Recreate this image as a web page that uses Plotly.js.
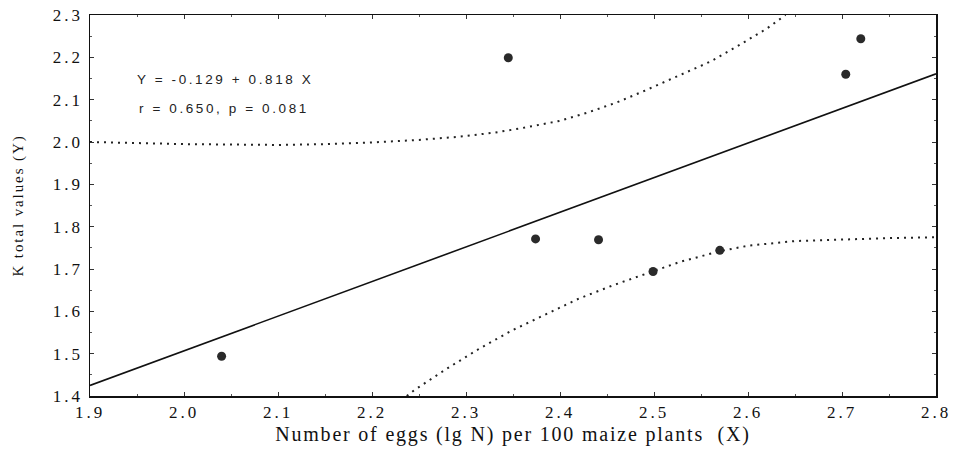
<!DOCTYPE html>
<html>
<head>
<meta charset="utf-8">
<script src="https://cdn.plot.ly/plotly-3.0.1.min.js"></script>
<style>
html,body{margin:0;padding:0;background:#fff;}
#chart{width:954px;height:456px;}
#chart g.xtick text, #chart g.ytick text{letter-spacing:3px;}
#chart text.xtitle{letter-spacing:1.8px;}
#chart text.ytitle{letter-spacing:1.9px;}
#chart g.annotation text{letter-spacing:2.6px;}
</style>
</head>
<body>
<div id="chart"></div>
<script>
// Observed points
const eggsX = [2.040, 2.345, 2.374, 2.441, 2.499, 2.570, 2.704, 2.720];
const kTotalY = [1.494, 2.199, 1.771, 1.769, 1.694, 1.744, 2.160, 2.244];

// Regression line endpoints (Y = -0.129 + 0.818 X)
const fitX = [1.9, 2.8];
const fitY = [1.425, 2.161];

// Upper confidence band
const upperX = [1.9, 2.0, 2.1, 2.15, 2.2, 2.25, 2.29, 2.33, 2.36, 2.40, 2.43, 2.46, 2.49, 2.52, 2.56, 2.59, 2.62, 2.64];
const upperY = [2.000, 1.995, 1.993, 1.995, 1.999, 2.005, 2.012, 2.022, 2.033, 2.050, 2.070, 2.093, 2.121, 2.150, 2.190, 2.228, 2.268, 2.300];

// Lower confidence band
const lowerX = [2.237, 2.245, 2.28, 2.315, 2.35, 2.386, 2.42, 2.457, 2.50, 2.528, 2.57, 2.60, 2.65, 2.70, 2.75, 2.80];
const lowerY = [1.400, 1.414, 1.465, 1.513, 1.556, 1.595, 1.630, 1.662, 1.696, 1.717, 1.742, 1.755, 1.766, 1.770, 1.773, 1.775];

const xTicks = [1.9, 2.0, 2.1, 2.2, 2.3, 2.4, 2.5, 2.6, 2.7, 2.8];
const yTicks = [1.4, 1.5, 1.6, 1.7, 1.8, 1.9, 2.0, 2.1, 2.2, 2.3];

const eqText = "Y = -0.129 + 0.818 X";
const statText = "r = 0.650, p = 0.081";

const dotted = {color: '#222', width: 2, dash: '2px,5px'};

const traces = [
  {x: upperX, y: upperY, mode: 'lines', line: dotted, hoverinfo: 'skip'},
  {x: lowerX, y: lowerY, mode: 'lines', line: dotted, hoverinfo: 'skip'},
  {x: fitX, y: fitY, mode: 'lines', line: {color: '#111', width: 1.6}},
  {x: eggsX, y: kTotalY, mode: 'markers', marker: {color: '#2a2a2a', size: 9, symbol: 'circle'}}
];

const serif = 'Liberation Serif, Times New Roman, serif';
const axisFont = {family: serif, size: 17, color: '#111'};

const layout = {
  width: 954, height: 456,
  margin: {l: 90, r: 18, t: 15, b: 60},
  paper_bgcolor: '#fff', plot_bgcolor: '#fff',
  showlegend: false,
  xaxis: {
    range: [1.9, 2.8], tickvals: xTicks, ticktext: xTicks.map(v => v.toFixed(1)),
    showgrid: false, zeroline: false,
    showline: true, linecolor: '#111', linewidth: 1.5, mirror: 'ticks',
    ticks: 'inside', ticklen: 4, tickcolor: '#333', tickwidth: 1,
    minor: {dtick: 0.05, ticks: 'inside', ticklen: 2, tickcolor: '#555'},
    tickfont: axisFont, ticklabelstandoff: 0,
    title: {text: 'Number of eggs (lg N) per 100 maize plants  (X)', font: {family: serif, size: 20, color: '#111'}, standoff: 6}
  },
  yaxis: {
    range: [1.4, 2.3], tickvals: yTicks, ticktext: yTicks.map(v => v.toFixed(1)),
    showgrid: false, zeroline: false,
    showline: true, linecolor: '#111', linewidth: 1.5, mirror: 'ticks',
    ticks: 'inside', ticklen: 4, tickcolor: '#333', tickwidth: 1,
    minor: {dtick: 0.05, ticks: 'inside', ticklen: 2, tickcolor: '#555'},
    tickfont: axisFont, ticklabelstandoff: 2,
    title: {text: 'K total values (Y)', font: {family: serif, size: 15, color: '#111'}, standoff: 34}
  },
  annotations: [
    {xref: 'paper', yref: 'paper', x: (225-90)/846, y: (396-80)/381, text: eqText, showarrow: false,
     xanchor: 'center', yanchor: 'middle', font: {family: 'Liberation Sans, Arial, sans-serif', size: 13.5, color: '#222'}},
    {xref: 'paper', yref: 'paper', x: (224-90)/846, y: (396-108)/381, text: statText, showarrow: false,
     xanchor: 'center', yanchor: 'middle', font: {family: 'Liberation Sans, Arial, sans-serif', size: 13.5, color: '#222'}}
  ]
};

Plotly.newPlot('chart', traces, layout, {staticPlot: true, displayModeBar: false});
</script>
</body>
</html>
